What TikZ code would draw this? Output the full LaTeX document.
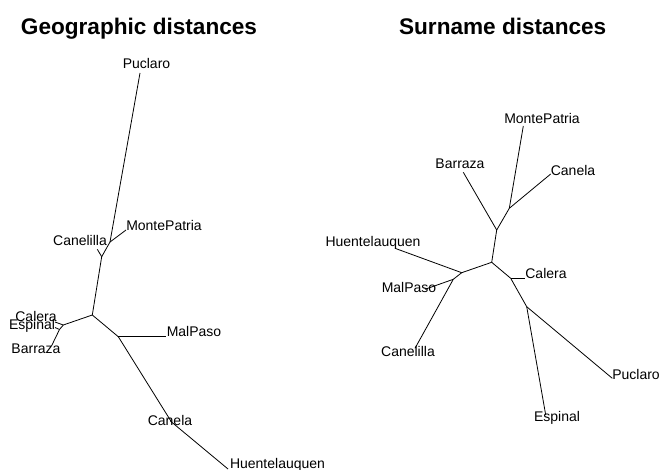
\documentclass[tikz,border=0pt]{standalone}
\usepackage{fontspec}
\setmainfont{Liberation Sans}
\begin{document}
\begin{tikzpicture}[x=1pt,y=-1pt,
  edge/.style={draw=black,line width=0.8pt},
  tip/.style={inner sep=0pt,font=\fontsize{14}{16}\selectfont},
  heading/.style={inner sep=0pt,anchor=base,font=\bfseries\fontsize{22.6}{26}\selectfont}]
\useasboundingbox[fill=white] (0,0) rectangle (660,470);

% headings
\node[heading] (t1) at (139,35) {Geographic distances};
\node[heading] (t2) at (502.7,35) {Surname distances};

% ---------- geographic tree ----------
\coordinate (gPuc) at (140,73);
\coordinate (gA) at (110,242);
\coordinate (gMon) at (126,230);
\coordinate (gB) at (101.7,256.7);
\coordinate (gCnl) at (97.3,249.3);
\coordinate (gC) at (92.3,315);
\coordinate (gD) at (63.3,325);
\coordinate (gCal) at (55,322);
\coordinate (gN) at (59.5,329.5);
\coordinate (gEsp) at (55,327.5);
\coordinate (gBar) at (51.5,346);
\coordinate (gE) at (118.3,336.7);
\coordinate (gMal) at (165.7,336.7);
\coordinate (gF) at (171.5,422);
\coordinate (gCan) at (170.5,421);
\coordinate (gHue) at (228,469);

\draw[edge] (gPuc) -- (gA);
\draw[edge] (gA) -- (gMon);
\draw[edge] (gA) -- (gB);
\draw[edge] (gB) -- (gCnl);
\draw[edge] (gB) -- (gC);
\draw[edge] (gC) -- (gD);
\draw[edge] (gD) -- (gCal);
\draw[edge] (gD) -- (gN);
\draw[edge] (gN) -- (gEsp);
\draw[edge] (gN) -- (gBar);
\draw[edge] (gC) -- (gE);
\draw[edge] (gE) -- (gMal);
\draw[edge] (gE) -- (gF);
\draw[edge] (gF) -- (gCan);
\draw[edge] (gF) -- (gHue);

\node[tip] (lgPuc) at (146.5,63) {Puclaro};
\node[tip] (lgMon) at (164,225) {MontePatria};
\node[tip] (lgCnl) at (80,240) {Canelilla};
\node[tip] (lgCal) at (36,316) {Calera};
\node[tip] (lgEsp) at (32,326) {Espinal};
\node[tip] (lgBar) at (36,349) {Barraza};
\node[tip] (lgMal) at (194,331) {MalPaso};
\node[tip] (lgCan) at (170,420) {Canela};
\node[tip] (lgHue) at (277.5,465) {Huentelauquen};

% ---------- surname tree ----------
\coordinate (sMon) at (523.3,126);
\coordinate (sG) at (509.3,208.3);
\coordinate (sCan) at (550.7,174);
\coordinate (sH) at (496.7,230);
\coordinate (sBar) at (463.3,172.3);
\coordinate (sI) at (491.7,262.3);
\coordinate (sJ) at (461.7,272.7);
\coordinate (sHue) at (395,248.3);
\coordinate (sL) at (453.3,279.3);
\coordinate (sMal) at (425,289.3);
\coordinate (sCnl) at (415,348.3);
\coordinate (sK) at (510.7,278.3);
\coordinate (sCal) at (525,278.3);
\coordinate (sM) at (526.7,306.7);
\coordinate (sPuc) at (612.3,378.3);
\coordinate (sEsp) at (545.7,415);

\draw[edge] (sMon) -- (sG);
\draw[edge] (sG) -- (sCan);
\draw[edge] (sG) -- (sH);
\draw[edge] (sH) -- (sBar);
\draw[edge] (sH) -- (sI);
\draw[edge] (sI) -- (sJ);
\draw[edge] (sJ) -- (sHue);
\draw[edge] (sJ) -- (sL);
\draw[edge] (sL) -- (sMal);
\draw[edge] (sL) -- (sCnl);
\draw[edge] (sI) -- (sK);
\draw[edge] (sK) -- (sCal);
\draw[edge] (sK) -- (sM);
\draw[edge] (sM) -- (sPuc);
\draw[edge] (sM) -- (sEsp);

\node[tip] (lsMon) at (542,118) {MontePatria};
\node[tip] (lsCan) at (573,170) {Canela};
\node[tip] (lsBar) at (460,164) {Barraza};
\node[tip] (lsHue) at (373,243) {Huentelauquen};
\node[tip] (lsCal) at (546,273) {Calera};
\node[tip] (lsMal) at (409,287) {MalPaso};
\node[tip] (lsCnl) at (408,351) {Canelilla};
\node[tip] (lsPuc) at (636,374) {Puclaro};
\node[tip] (lsEsp) at (557,418) {Espinal};
\end{tikzpicture}
\end{document}
